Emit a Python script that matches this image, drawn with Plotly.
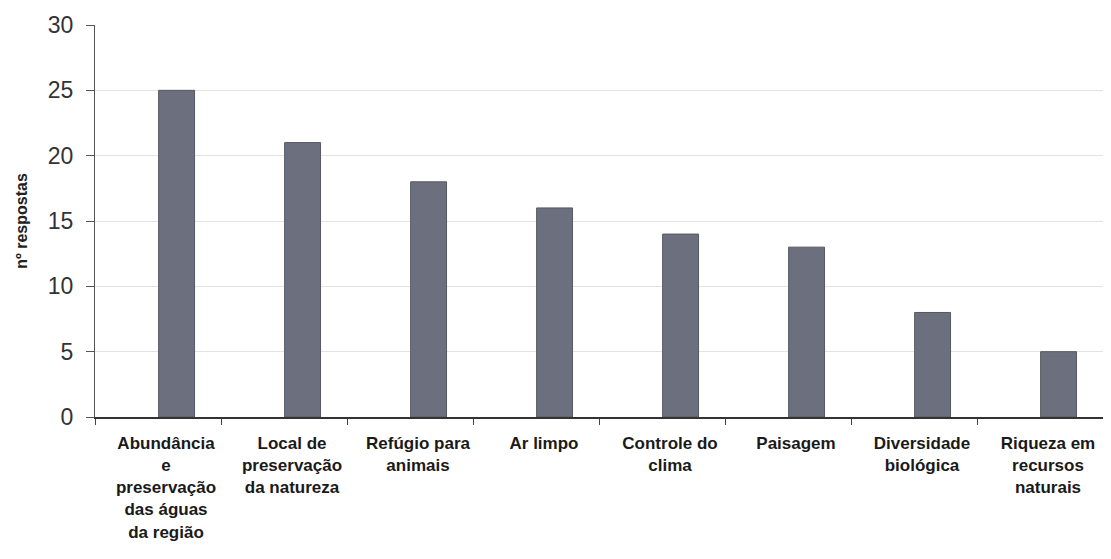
import plotly.graph_objects as go

categories = [
    "Abundância<br>e<br>preservação<br>das águas<br>da região",
    "Local de<br>preservação<br>da natureza",
    "Refúgio para<br>animais",
    "Ar limpo",
    "Controle do<br>clima",
    "Paisagem",
    "Diversidade<br>biológica",
    "Riqueza em<br>recursos<br>naturais",
]
values = [25, 21, 18, 16, 14, 13, 8, 5]
y_ticks = [0, 5, 10, 15, 20, 25, 30]
y_title = "nº respostas"

fig = go.Figure()
fig.add_trace(go.Bar(
    x=categories, y=values,
    width=0.285, offset=0.005,
    marker=dict(color="#6c6f7e", line=dict(color="#56585f", width=1)),
    hoverinfo="x+y",
))

fig.update_layout(
    width=1103, height=551,
    margin=dict(l=87, r=8, t=17, b=142, autoexpand=False),
    paper_bgcolor="white", plot_bgcolor="white",
    showlegend=False,
    font=dict(family="Liberation Sans, Arial, sans-serif", color="#222"),
)
fig.update_xaxes(
    type="category",
    tickson="boundaries",
    ticks="outside", ticklen=6, tickcolor="#444", tickwidth=1,
    showline=True, linecolor="#333", linewidth=1.5,
    showgrid=False,
    tickangle=0,
    automargin=False,
    tickfont=dict(size=17, color="#1a1a1a", family="Liberation Sans, Arial, sans-serif", weight="bold"),
    ticklabelstandoff=10,
    ticklabelshift=8,
)
fig.update_yaxes(
    range=[0, 30],
    tickvals=y_ticks,
    ticks="outside", ticklen=8, tickcolor="#555", tickwidth=1,
    showline=True, linecolor="#555", linewidth=1,
    showgrid=True, gridcolor="#e3e3e3", gridwidth=1,
    zeroline=False,
    automargin=False,
    tickfont=dict(size=23, color="#333"),
    ticklabelstandoff=8,
    title=dict(text=y_title, font=dict(size=16, color="#222", weight="bold"), standoff=16),
)

fig.write_html("out.html")
